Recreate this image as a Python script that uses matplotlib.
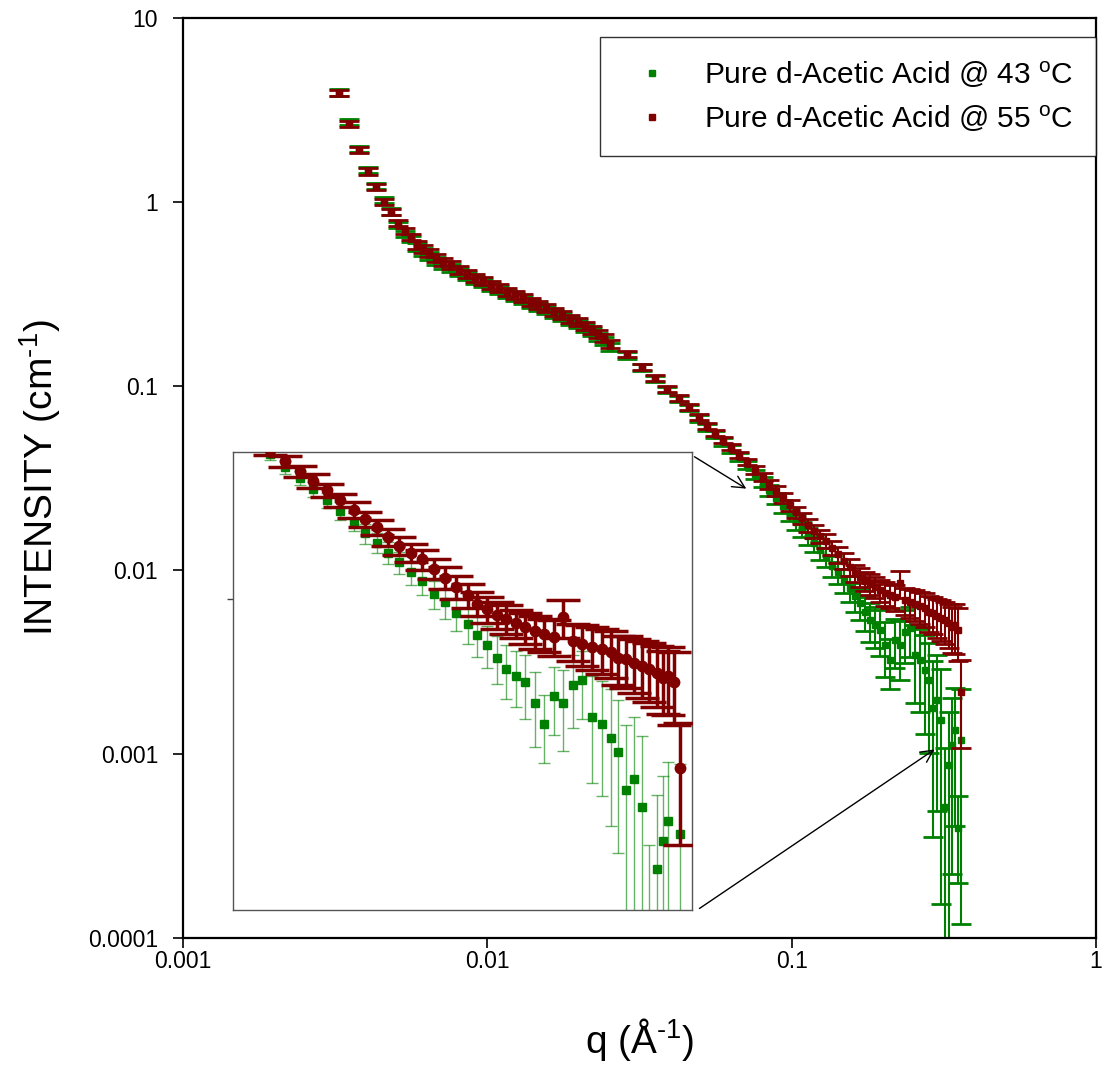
import matplotlib
matplotlib.use("Agg")
import matplotlib.pyplot as plt
from matplotlib.lines import Line2D
from matplotlib.ticker import NullLocator
import numpy as np

plt.rcParams["font.family"] = ["Liberation Sans", "DejaVu Sans"]
plt.rcParams["mathtext.fontset"] = "custom"
plt.rcParams["mathtext.rm"] = "Liberation Sans"
plt.rcParams["mathtext.it"] = "Liberation Sans:italic"

GREEN = "#008000"
MAROON = "#800000"

# q values (1/Angstrom), shared by both temperatures
q = [
    0.00326, 0.00352, 0.00379, 0.00406, 0.00431, 0.00458, 0.00483, 0.00509, 0.00537, 0.00561,
    0.00587, 0.00614, 0.00643, 0.00678, 0.00714, 0.00759, 0.00806, 0.00856, 0.00909, 0.00965,
    0.01025, 0.0109, 0.01157, 0.01229, 0.01305, 0.01386, 0.01472, 0.01563, 0.0166, 0.01763,
    0.01873, 0.0199, 0.02098, 0.0221, 0.02313, 0.0242, 0.0253, 0.0288, 0.0322, 0.03554,
    0.0389, 0.0426, 0.0459, 0.0495, 0.0526, 0.0558, 0.0593, 0.063, 0.0669, 0.0711,
    0.0755, 0.0802, 0.0845, 0.0891, 0.0939, 0.099, 0.1036, 0.1084, 0.1134, 0.1186,
    0.1241, 0.1298, 0.1358, 0.1422, 0.1486, 0.1556, 0.1614, 0.1677, 0.1742, 0.1808,
    0.1878, 0.195, 0.2025, 0.2103, 0.2183, 0.2267, 0.2355, 0.2445, 0.2539, 0.2636,
    0.2737, 0.2818, 0.2908, 0.2997, 0.309, 0.318, 0.328, 0.3355, 0.343, 0.351,
    0.359,
]

# intensity at 55 C (cm^-1)
i_55 = [
    3.91, 2.65, 1.92, 1.47, 1.21, 1.00, 0.882, 0.769, 0.696, 0.645,
    0.584, 0.556, 0.528, 0.496, 0.472, 0.455, 0.427, 0.406, 0.386, 0.372,
    0.354, 0.341, 0.324, 0.312, 0.301, 0.286, 0.275, 0.265, 0.252, 0.243,
    0.231, 0.223, 0.212, 0.201, 0.192, 0.182, 0.169, 0.149, 0.127, 0.1105,
    0.0963, 0.0861, 0.0769, 0.0679, 0.0606, 0.0555, 0.0509, 0.0466, 0.0422, 0.0386,
    0.035, 0.032, 0.0293, 0.0269, 0.0246, 0.0225, 0.0207, 0.0192, 0.0176, 0.0163,
    0.0153, 0.0144, 0.0132, 0.0122, 0.0112, 0.0104, 0.00964, 0.00916, 0.00871, 0.0084,
    0.00808, 0.00778, 0.0075, 0.00731, 0.00713, 0.0085, 0.00687, 0.0067, 0.00653, 0.00637,
    0.00621, 0.00591, 0.00584, 0.00562, 0.00548, 0.00535, 0.00515, 0.0049, 0.00502, 0.00472,
    0.00217,
]

# intensity at 43 C (cm^-1)
i_43 = [
    3.95, 2.72, 1.94, 1.49, 1.22, 1.03, 0.89, 0.75, 0.67, 0.63,
    0.57, 0.535, 0.51, 0.48, 0.458, 0.44, 0.415, 0.395, 0.378, 0.362,
    0.346, 0.333, 0.318, 0.305, 0.294, 0.280, 0.270, 0.259, 0.247, 0.238,
    0.226, 0.218, 0.207, 0.196, 0.186, 0.176, 0.163, 0.147, 0.126, 0.109,
    0.095, 0.0850, 0.0758, 0.0668, 0.0597, 0.0545, 0.0498, 0.0455, 0.0411, 0.0374,
    0.0332, 0.0301, 0.0272, 0.0246, 0.0223, 0.0202, 0.0182, 0.0167, 0.0153, 0.014,
    0.0128, 0.0118, 0.0105, 0.00975, 0.00882, 0.00798, 0.00722, 0.00662, 0.00591, 0.00535,
    0.00502, 0.00472, 0.00391, 0.00324, 0.00417, 0.00391, 0.0046, 0.00484, 0.00345, 0.00324,
    0.00286, 0.00252, 0.00178, 0.00197, 0.00153, 0.000515, 0.00087, 0.00112, 0.00135, 0.000396,
    0.00119,
]

# relative errors (dI / I)
rel_err_55 = [
    0.04, 0.04, 0.04, 0.04, 0.04, 0.04, 0.04, 0.04, 0.04, 0.04,
    0.05, 0.05, 0.05, 0.05, 0.05, 0.05, 0.05, 0.05, 0.05, 0.05,
    0.05, 0.05, 0.05, 0.05, 0.05, 0.05, 0.05, 0.05, 0.05, 0.05,
    0.05, 0.05, 0.05, 0.05, 0.05, 0.05, 0.05, 0.04, 0.04, 0.04,
    0.04, 0.04, 0.04, 0.04, 0.04, 0.04, 0.04, 0.04, 0.04, 0.04,
    0.05, 0.05, 0.06, 0.06, 0.06, 0.07, 0.07, 0.07, 0.08, 0.08,
    0.08, 0.09, 0.09, 0.10, 0.10, 0.11, 0.11, 0.12, 0.12, 0.13,
    0.13, 0.14, 0.15, 0.15, 0.16, 0.17, 0.17, 0.18, 0.19, 0.20,
    0.21, 0.22, 0.23, 0.24, 0.25, 0.26, 0.27, 0.28, 0.30, 0.32,
    0.50,
]

rel_err_43 = [
    0.04, 0.04, 0.04, 0.04, 0.04, 0.04, 0.04, 0.04, 0.04, 0.04,
    0.05, 0.05, 0.05, 0.05, 0.05, 0.05, 0.05, 0.05, 0.05, 0.05,
    0.05, 0.05, 0.05, 0.05, 0.05, 0.05, 0.05, 0.05, 0.05, 0.05,
    0.05, 0.05, 0.05, 0.05, 0.05, 0.05, 0.05, 0.04, 0.04, 0.04,
    0.04, 0.04, 0.04, 0.04, 0.04, 0.04, 0.05, 0.05, 0.05, 0.05,
    0.06, 0.06, 0.07, 0.07, 0.08, 0.08, 0.09, 0.09, 0.10, 0.10,
    0.11, 0.12, 0.13, 0.14, 0.15, 0.16, 0.18, 0.19, 0.21, 0.24,
    0.25, 0.28, 0.33, 0.30, 0.30, 0.35, 0.32, 0.30, 0.45, 0.48,
    0.55, 0.60, 0.80, 0.75, 0.90, 1.10, 0.95, 0.80, 0.70, 0.50,
    0.90,
]

x_ticks = [0.001, 0.01, 0.1, 1]
x_tick_labels = ["0.001", "0.01", "0.1", "1"]
y_ticks = [0.0001, 0.001, 0.01, 0.1, 1, 10]
y_tick_labels = ["0.0001", "0.001", "0.01", "0.1", "1", "10"]

labels = [
    r"Pure d-Acetic Acid @ 43 $^{\mathrm{o}}$C",
    r"Pure d-Acetic Acid @ 55 $^{\mathrm{o}}$C",
]

q_arr = np.array(q)
y43 = np.array(i_43)
y55 = np.array(i_55)
e43 = y43 * np.array(rel_err_43)
e55 = y55 * np.array(rel_err_55)

fig = plt.figure(figsize=(11.04, 10.65), dpi=100)
ax = fig.add_axes([0.1658, 0.1192, 0.8270, 0.8638])
ax.set_xscale("log", nonpositive="clip")
ax.set_yscale("log", nonpositive="clip")

ax.errorbar(q_arr, y43, yerr=e43, fmt="s", color=GREEN, ms=5,
            elinewidth=1.5, capsize=7, capthick=2.0, zorder=2)
ax.errorbar(q_arr, y55, yerr=e55, fmt="s", color=MAROON, ms=5,
            elinewidth=1.5, capsize=7, capthick=2.0, zorder=3)

ax.set_xlim(0.001, 1)
ax.set_ylim(0.0001, 10)
ax.set_xticks(x_ticks)
ax.set_xticklabels(x_tick_labels)
ax.set_yticks(y_ticks)
ax.set_yticklabels(y_tick_labels)
ax.xaxis.set_minor_locator(NullLocator())
ax.yaxis.set_minor_locator(NullLocator())
ax.tick_params(axis="both", which="major", direction="out", length=7, width=1.2,
               labelsize=16.5, top=False, right=False)
ax.tick_params(axis="y", pad=11)
ax.tick_params(axis="x", pad=1.5)
for sp in ax.spines.values():
    sp.set_linewidth(1.6)

ax.set_xlabel(r"q ($\mathrm{\AA}^{\text{-1}}$)", fontsize=28)
ax.set_ylabel(r"INTENSITY (cm$^{\text{-1}}$)", fontsize=28)
ax.xaxis.set_label_coords(0.5, -0.085)
ax.xaxis.label.set_verticalalignment("top")
ax.yaxis.set_label_coords(-0.132, 0.5)

handles = [
    Line2D([], [], marker="s", color=GREEN, ls="none", ms=5),
    Line2D([], [], marker="s", color=MAROON, ls="none", ms=5),
]
leg = ax.legend(handles, labels, loc="upper right", bbox_to_anchor=(1.0, 0.9793),
                fontsize=21.5, frameon=True, fancybox=False, borderpad=0.75,
                labelspacing=0.45, handlelength=2.0, handletextpad=0.75, borderaxespad=0)
leg.get_frame().set_edgecolor("black")
leg.get_frame().set_linewidth(1.0)

# inset: zoom of the high-q region
axin = fig.add_axes([0.2111, 0.1455, 0.4158, 0.4300])
axin.set_xscale("log", nonpositive="clip")
axin.set_yscale("log", nonpositive="clip")
axin.errorbar(q_arr, y43, yerr=e43, fmt="s", color=GREEN, ms=6,
              ecolor=(0.0, 0.5, 0.0, 0.6), elinewidth=1.0, capsize=4, capthick=1.0, zorder=2)
axin.errorbar(q_arr, y55, yerr=e55, fmt="o", color=MAROON, ms=7.5,
              elinewidth=2.5, capsize=12, capthick=2.5, zorder=3)
axin.set_xlim(0.0615, 0.377)
axin.set_ylim(0.0006, 0.038)
axin.set_xticks([])
axin.set_yticks([0.01])
axin.set_yticklabels([])
axin.xaxis.set_minor_locator(NullLocator())
axin.yaxis.set_minor_locator(NullLocator())
axin.tick_params(axis="y", direction="out", length=4, width=1, colors="#444444")
for sp in axin.spines.values():
    sp.set_linewidth(1.0)
    sp.set_edgecolor("#555555")

arrow_style = dict(arrowstyle="->", color="black", lw=1.0, mutation_scale=22)
ax.annotate("", xy=(0.0722, 0.0272), xycoords="data",
            xytext=(1.0, 0.993), textcoords=axin.transAxes, arrowprops=arrow_style)
ax.annotate("", xy=(0.2997, 0.00108), xycoords="data",
            xytext=(1.011, 0.0), textcoords=axin.transAxes, arrowprops=arrow_style)

fig.savefig("out.png", dpi=100)
